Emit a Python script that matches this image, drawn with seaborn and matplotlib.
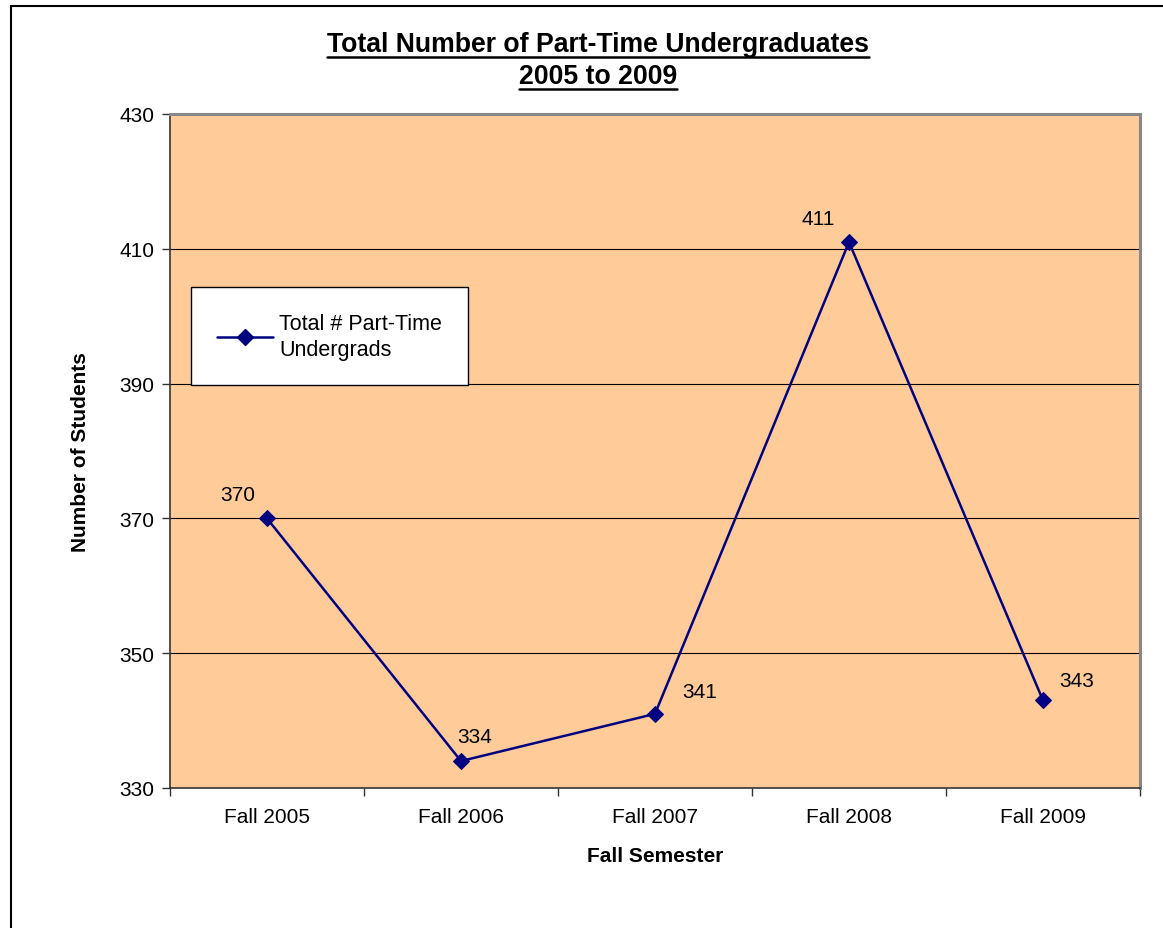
import matplotlib
matplotlib.use("Agg")
import matplotlib.pyplot as plt
import seaborn as sns
import pandas as pd
from matplotlib.lines import Line2D

semesters = ["Fall 2005", "Fall 2006", "Fall 2007", "Fall 2008", "Fall 2009"]
students = [370, 334, 341, 411, 343]
series_name = "Total # Part-Time\nUndergrads"
y_ticks = [330, 350, 370, 390, 410, 430]

sns.set_theme(style="white")
plt.rcParams['font.family'] = ['Liberation Sans', 'DejaVu Sans']
plt.rcParams['text.color'] = 'black'
plt.rcParams['axes.labelcolor'] = 'black'
plt.rcParams['xtick.color'] = 'black'
plt.rcParams['ytick.color'] = 'black'

FS = 15

W, H = 1163, 929
fig = plt.figure(figsize=(W / 100, H / 100), dpi=100)
fig.patch.set_facecolor("white")

# axes position in pixels: left 170, right 1140, top 115, bottom 789
l, r, t, b = 170, 1140, 115, 789
ax = fig.add_axes([l / W, 1 - b / H, (r - l) / W, (b - t) / H])
ax.set_facecolor("#FFCC99")

df = pd.DataFrame({"Semester": semesters, "Students": students})
sns.lineplot(data=df, x="Semester", y="Students", ax=ax, color="#000080",
             marker="D", markersize=8, markeredgecolor="#000080",
             linewidth=1.8, sort=False, zorder=3)

ax.set_xlim(-0.5, len(semesters) - 0.5)
ax.set_ylim(330, 430)
ax.set_yticks(y_ticks)
ax.set_yticklabels([str(v) for v in y_ticks], fontsize=FS, color="black")
ax.set_xticks(range(len(semesters)))
ax.set_xticklabels(semesters, fontsize=FS, color="black")
ax.set_xticks([i - 0.5 for i in range(len(semesters) + 1)], minor=True)
ax.tick_params(axis="x", which="major", length=0, pad=14)
ax.tick_params(axis="x", which="minor", length=6, width=1, color="#333333", direction="out", bottom=True)
ax.tick_params(axis="y", which="major", length=6, width=1, color="#333333", direction="out", left=True, pad=5)

for v in y_ticks[1:-1]:
    ax.axhline(v, color="black", linewidth=0.8, zorder=1)

for side in ["top", "right"]:
    ax.spines[side].set_color("#888888")
    ax.spines[side].set_linewidth(2.2)
for side in ["left", "bottom"]:
    ax.spines[side].set_color("#333333")
    ax.spines[side].set_linewidth(1.2)

ax.set_xlabel("Fall Semester", fontsize=FS, fontweight="bold", va="center")
ax.xaxis.set_label_coords(0.5, -(856 - b) / (b - t))
ax.set_ylabel("Number of Students", fontsize=FS, fontweight="bold", va="center")
ax.yaxis.set_label_coords(-(l - 81) / (r - l), 0.5)

offsets = [(-21, 17), (10, 18), (32, 16), (-22, 17), (24, 14)]
for i, (v, off) in enumerate(zip(students, offsets)):
    ax.annotate(str(v), (i, v), xytext=off, textcoords="offset points",
                ha="center", va="center", fontsize=FS, color="black")

handle = Line2D([0], [0], color="#000080", marker="D", markersize=8, linewidth=1.8)
leg = ax.legend([handle], [series_name], loc="upper left",
                bbox_to_anchor=((191 - l) / (r - l), 1 - (288 - t) / (b - t)),
                frameon=True, fancybox=False, fontsize=15.5, handlelength=2.6,
                borderpad=1.2, handletextpad=0.3, borderaxespad=0)
leg.get_frame().set_edgecolor("black")
leg.get_frame().set_linewidth(1.0)
leg.get_frame().set_facecolor("white")
leg.get_frame().set_alpha(1)
for txt in leg.get_texts():
    txt.set_linespacing(1.3)

# title lines with underline
titles = [("Total Number of Part-Time Undergraduates", 45), ("2005 to 2009", 77)]
fig.canvas.draw()
renderer = fig.canvas.get_renderer()
for txt, ypix in titles:
    tt = fig.text(598 / W, 1 - ypix / H, txt, ha="center", va="center",
                  fontsize=19.2, fontweight="bold", color="black")
    bb = tt.get_window_extent(renderer=renderer)
    uy = 1 - (ypix + 13) / H
    fig.add_artist(Line2D([bb.x0 / W, bb.x1 / W], [uy, uy], color="black",
                          linewidth=1.8, transform=fig.transFigure))

# outer chart border (left and top visible)
fig.add_artist(Line2D([11 / W, 11 / W], [0, 1 - 7 / H], color="black", linewidth=1.5, transform=fig.transFigure))
fig.add_artist(Line2D([11 / W, 1], [1 - 7 / H, 1 - 7 / H], color="black", linewidth=1.5, transform=fig.transFigure))

fig.savefig("out.png", dpi=100, facecolor="white")
